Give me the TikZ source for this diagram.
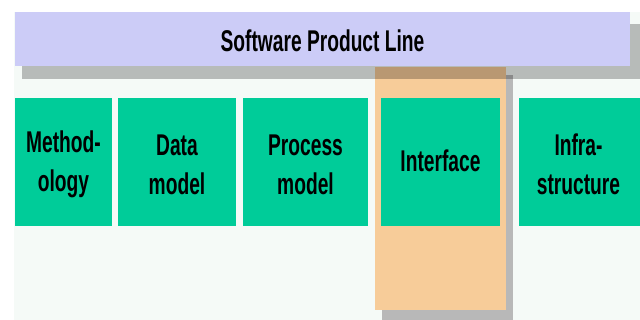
\documentclass[tikz,border=0pt]{standalone}
\usepackage{fontspec}
\newfontfamily\lblfont{Liberation Sans}[FakeStretch=0.64]
\definecolor{bglight}{HTML}{F5FAF7}
\definecolor{bannerc}{HTML}{CCCCF7}
\definecolor{greenc}{HTML}{00CC99}
\definecolor{orangec}{HTML}{F7CC99}
\definecolor{shadowc}{HTML}{B8B8B8}
\begin{document}
\begin{tikzpicture}[x=1pt,y=-1pt,
  lbl/.style={font=\lblfont\bfseries\fontsize{30}{39}\selectfont, text=black, align=center, inner sep=0pt},
  gbox/.style={fill=greenc, draw=none}]
\useasboundingbox (0,0) rectangle (640,320);
\fill[white] (0,0) rectangle (640,320);
% light background
\fill[bglight] (14,12) rectangle (640,320);
% orange column with shadow
\fill[shadowc] (382,75) rectangle (513,320);
\fill[orangec] (375,67) rectangle (506,310);
% banner shadow (translucent)
\fill[black, opacity=0.25] (22,24) rectangle (640,79);
% banner
\fill[bannerc] (15,12) rectangle (630,66);
\node[lbl] (spl) at (322.5,41) {Software Product Line};
% green boxes
\fill[gbox] (15,98) rectangle (112,226);
\fill[gbox] (118,98) rectangle (236,226);
\fill[gbox] (243,98) rectangle (368,226);
\fill[gbox] (381,98) rectangle (500,226);
\fill[gbox] (519,98) rectangle (640,226);
\node[lbl] (meth) at (63.5,164.5) {Method-\\ology};
\node[lbl] (data) at (177,164.5) {Data\\model};
\node[lbl] (proc) at (305.5,164.5) {Process\\model};
\node[lbl] (intf) at (440.5,161) {Interface};
\node[lbl] (infra) at (578.5,164.5) {Infra-\\structure};
\end{tikzpicture}
\end{document}
